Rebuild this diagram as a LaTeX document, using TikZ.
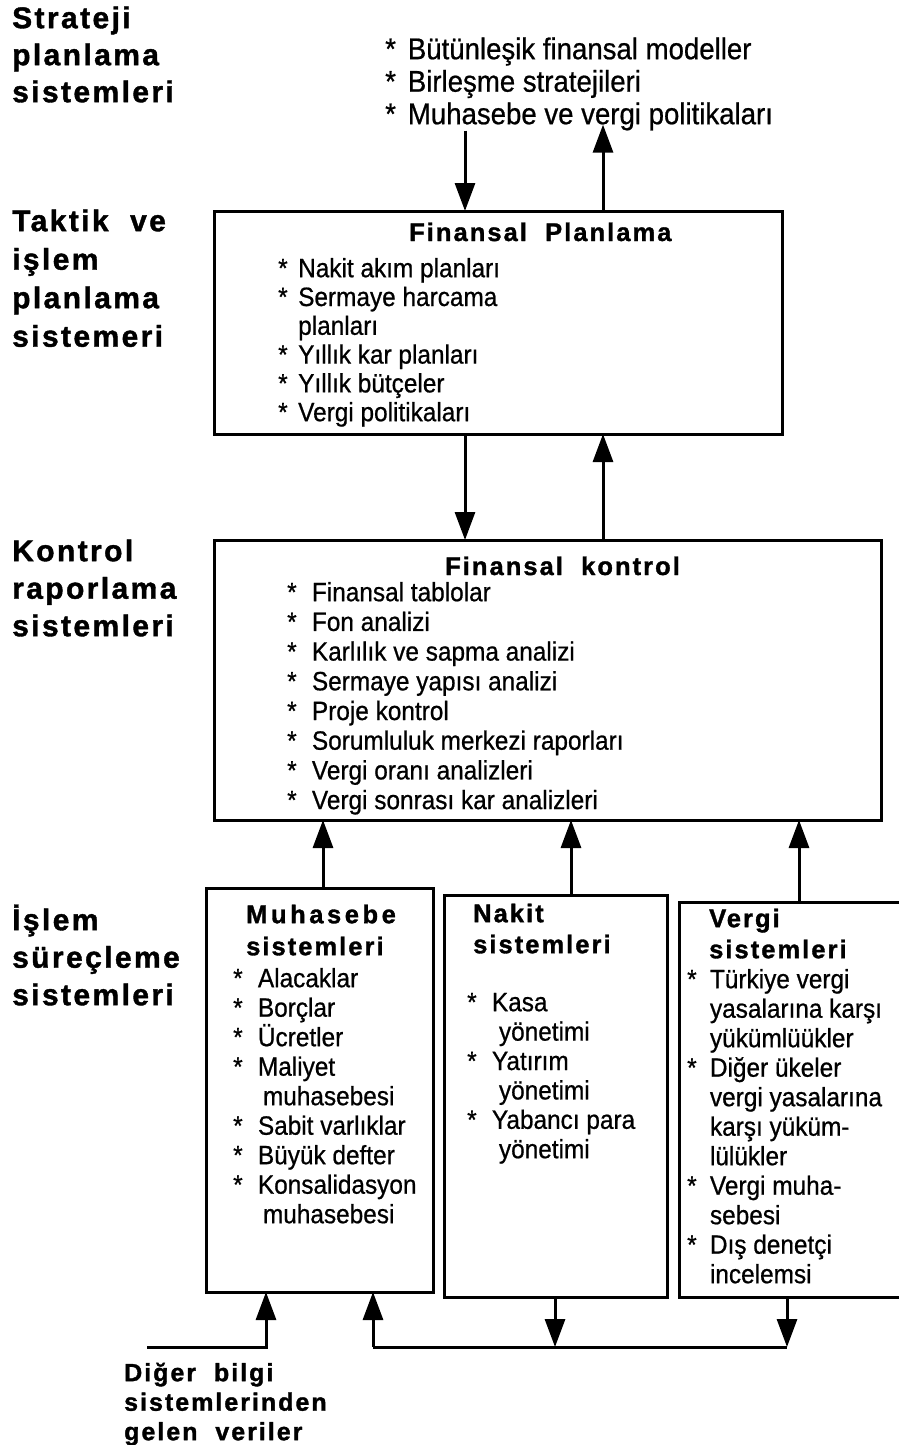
\documentclass[tikz,border=0pt]{standalone}
\usepackage{fontspec}
\usetikzlibrary{arrows.meta}
\newfontfamily\bodyfont{Liberation Sans}[FakeStretch=0.92, FakeBold=0.7]
\newfontfamily\headfont{Liberation Sans}[LetterSpace=8, FakeBold=1.3]
\newfontfamily\headwide{Liberation Sans}[LetterSpace=14, FakeBold=1.3]
% first-line strut: node tops sit 30pt above the first baseline
\newcommand\fl{\rule{0pt}{30pt}}
% bullet and continuation indent
\newcommand\bl[1][20pt]{\makebox[#1][l]{*}}
\newcommand\cn[1][20pt]{\hspace*{#1}}
\tikzset{
  x=1pt, y=-1pt,
  box/.style={draw, line width=3pt, anchor=north west, inner sep=0pt, outer sep=0pt},
  flow/.style={line width=3pt, -{Triangle[width=20pt,length=28pt]}},
  link/.style={line width=3pt},
  level/.style={anchor=north west, align=left, inner sep=0pt,
    font=\headfont\bfseries\fontsize{30}{#1}\selectfont},
  level/.default=37.5,
  title/.style={anchor=base west, inner sep=0pt,
    font=\headfont\bfseries\fontsize{25.5}{34}\selectfont},
  subtitle/.style={anchor=north west, align=left, inner sep=0pt,
    font=\headfont\bfseries\fontsize{25.5}{#1}\selectfont},
  subtitle/.default=32,
  items/.style={anchor=north west, align=left, inner sep=0pt,
    font=\bodyfont\fontsize{26.5}{#1}\selectfont},
  items/.default=29.5,
  source/.style={anchor=north west, align=left, inner sep=0pt,
    font=\headfont\bfseries\fontsize{25}{29.5}\selectfont},
}
\begin{document}
\begin{tikzpicture}
\useasboundingbox (0,0) rectangle (899,1445);

% level names on the left
\node[level=37] (lv1) at (12,-2) {\fl Strateji\\planlama\\sistemleri};
\node[level=38.5] (lv2) at (12,201) {\fl Taktik\ \ ve\\işlem\\planlama\\sistemeri};
\node[level] (lv3) at (12,531) {\fl Kontrol\\raporlama\\sistemleri};
\node[level] (lv4) at (12,900) {\fl İşlem\\süreçleme\\sistemleri};

% strategic planning items
\node[items, font=\bodyfont\fontsize{30}{32.5}\selectfont] (strat) at (385,29)
  {\fl\bl[15pt] Bütünleşik finansal modeller\\\bl[15pt] Birleşme stratejileri\\\bl[15pt] Muhasebe ve vergi politikaları};

% financial planning
\node[box, minimum width=568pt, minimum height=223pt] (plan) at (214,211) {};
\node[title] (plant) at (409,241) {Finansal\ \ Planlama};
\node[items=28.8] (planl) at (278,247)
  {\fl\bl Nakit akım planları\\\bl Sermaye harcama\\\cn planları\\\bl Yıllık kar planları\\\bl Yıllık bütçeler\\\bl Vergi politikaları};

% financial control
\node[box, minimum width=667pt, minimum height=280pt] (ctrl) at (214,540) {};
\node[title] (ctrlt) at (445,575) {Finansal\ \ kontrol};
\node[items=29.7] (ctrll) at (287,571)
  {\fl\bl[18pt] Finansal tablolar\\\bl[18pt] Fon analizi\\\bl[18pt] Karlılık ve sapma analizi\\\bl[18pt] Sermaye yapısı analizi\\\bl[18pt] Proje kontrol\\\bl[18pt] Sorumluluk merkezi raporları\\\bl[18pt] Vergi oranı analizleri\\\bl[18pt] Vergi sonrası kar analizleri};

% accounting systems
\node[box, minimum width=227pt, minimum height=404pt] (muh) at (206,888) {};
\node[subtitle] (muht) at (246,893) {\fl{\headwide Muhasebe}\\sistemleri};
\node[items] (muhl) at (233,957)
  {\fl\bl[18pt] Alacaklar\\\bl[18pt] Borçlar\\\bl[18pt] Ücretler\\\bl[18pt] Maliyet\\\cn[23pt] muhasebesi\\\bl[18pt] Sabit varlıklar\\\bl[18pt] Büyük defter\\\bl[18pt] Konsalidasyon\\\cn[23pt] muhasebesi};

% cash systems
\node[box, minimum width=223pt, minimum height=402pt] (nak) at (444,895) {};
\node[subtitle=31] (nakt) at (473,892) {\fl Nakit\\sistemleri};
\node[items=29.4] (nakl) at (467,981)
  {\fl\bl[18pt] Kasa\\\cn[25pt] yönetimi\\\bl[18pt] Yatırım\\\cn[25pt] yönetimi\\\bl[18pt] Yabancı para\\\cn[25pt] yönetimi};

% tax systems (box runs past the right edge)
\node[box, minimum width=236pt, minimum height=395pt] (verg) at (679,902) {};
\node[subtitle=31] (vergt) at (709,897) {\fl Vergi\\sistemleri};
\node[items] (vergl) at (687,958)
  {\fl\bl[16pt] Türkiye vergi\\\cn[16pt] yasalarına karşı\\\cn[16pt] yükümlüükler\\\bl[16pt] Diğer ükeler\\\cn[16pt] vergi yasalarına\\\cn[16pt] karşı yüküm-\\\cn[16pt] lülükler\\\bl[16pt] Vergi muha-\\\cn[16pt] sebesi\\\bl[16pt] Dış denetçi\\\cn[16pt] incelemsi};

% outside data label
\node[source] (src) at (124,1351) {\fl Diğer\ \ bilgi\\sistemlerinden\\gelen\ \ veriler};

% arrow columns
\coordinate (xa) at (465,0);
\coordinate (xb) at (603,0);
\coordinate (x1) at (323,0);
\coordinate (x2) at (571,0);
\coordinate (x3) at (799,0);
\coordinate (x4) at (555,0);
\coordinate (x5) at (787,0);
\coordinate (xin) at (266,0);
\coordinate (in) at (147,1347);
\coordinate (lp) at (373,1347);

% between strategic and planning levels
\draw[flow] (xa |- strat.south) -- (xa |- plan.north);
\draw[flow] (xb |- plan.north) -- ([yshift=6pt]xb |- strat.south);

% between planning and control
\draw[flow] (xa |- plan.south) -- (xa |- ctrl.north);
\draw[flow] (xb |- ctrl.north) -- (xb |- plan.south);

% transaction systems feed control
\draw[flow] (x1 |- muh.north) -- (x1 |- ctrl.south);
\draw[flow] (x2 |- nak.north) -- (x2 |- ctrl.south);
\draw[flow] (x3 |- verg.north) -- (x3 |- ctrl.south);

% incoming data and feedback loop at the bottom
\draw[flow] (in) -| (xin |- muh.south);
\draw[flow] (lp) -- (lp |- muh.south);
\draw[link] (lp) -- (x5 |- lp);
\draw[flow] (x4 |- nak.south) -- (x4 |- lp);
\draw[flow] (x5 |- verg.south) -- (x5 |- lp);
\end{tikzpicture}
\end{document}
